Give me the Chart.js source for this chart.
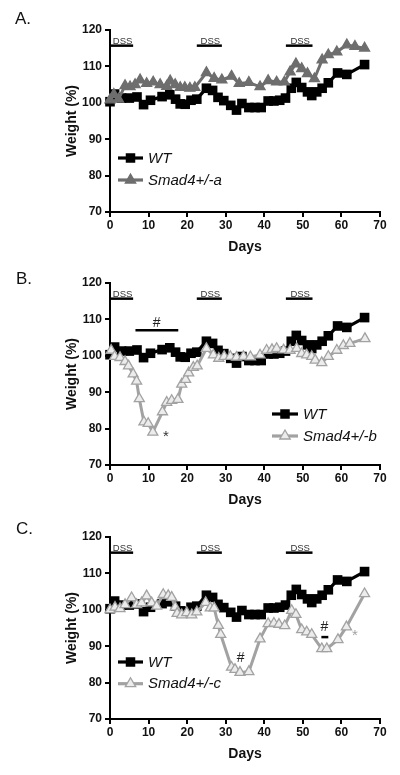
<!DOCTYPE html>
<html><head><meta charset="utf-8">
<script src="https://cdn.jsdelivr.net/npm/chart.js@4.4.1/dist/chart.umd.min.js"></script>
<style>
html,body{margin:0;padding:0;background:#fff;width:400px;height:775px;overflow:hidden;position:relative}
.panel{position:absolute;left:0;width:400px;height:262px}
canvas{display:block}
</style></head><body>
<div class="panel" style="top:0px"><canvas id="cA" width="400" height="262"></canvas></div>
<div class="panel" style="top:253px"><canvas id="cB" width="400" height="262"></canvas></div>
<div class="panel" style="top:507px"><canvas id="cC" width="400" height="262"></canvas></div>
<script>
// ---------- data ----------
const wtDays   = [0,1.2,3,5,7,8.7,10.5,13.5,15.5,17,18.2,19.5,21,22.5,25,26.6,28,29.5,31.3,32.8,34.2,36,37.6,39.2,41,42.5,44,45.5,47,48.3,49.7,51.2,52.3,53.6,55,56.6,59,61.4,66];
const wtWeight = [100.3,102.4,101.3,101.3,101.6,99.5,100.7,101.7,102.2,101,99.7,99.6,100.7,101,104,103.4,101.5,100.6,99.3,98,99.8,98.7,98.7,98.7,100.5,100.5,100.7,101.3,104,105.6,104.2,103,102,103,104,105.5,108.2,107.8,110.5];

const smadADays   = [0,1,2.2,3.9,5.2,6.5,7.8,9.5,11.2,13,14.7,15.6,16.9,18.2,19.4,20.7,22,25,27,29,31.5,33.5,36,38.9,41,43.2,45.2,46.7,48.2,49.7,51.2,53,55,56.6,58.8,61.4,63.5,66];
const smadAWeight = [100.8,102.3,101,104.7,104.4,105,106.3,105.3,105.7,105,104.5,106,105,104.2,104.2,104,104.2,108.3,106.7,106.3,107.3,105.3,105.6,104.4,106.1,105.7,105.7,108.5,110.7,109.4,108,106.6,111.8,113.2,114,115.9,115.5,115];

const smadBDays   = [0.3,1.2,2.6,3.9,4.8,6,6.9,7.6,8.8,9.9,11.1,13.6,14.7,16,17.6,18.6,19.6,20.4,21.6,22.6,25,26.8,28.2,29.6,31.2,32.8,34.6,36.4,38.9,40.6,42,43.2,45,46.7,48.4,49.7,51,52.3,53.2,54.9,56.6,58.8,60.5,62.2,66.1];
const smadBWeight = [101.5,99.8,99.5,98.4,97.2,95,93,88.2,81.8,81.4,79,84.6,87.2,87.7,88,92.2,93.5,95.3,96.8,97.2,102,100.2,99.3,99.8,99.8,99.6,99.8,99.7,100.2,101.5,101.7,102,101.6,101.5,102,100.6,100.2,99.8,98.8,98.1,99.8,101.5,102.8,103.4,104.7];

const smadCDays   = [0,1.3,2.6,3.9,5.6,6.9,8.2,9.5,10.8,12.1,13.8,15.1,16,16.9,17.4,18.6,19.9,21.2,22.5,24.8,26,27,28.1,28.7,31.5,32.4,33.7,36,38.9,41,42.5,43.8,45.3,47.1,48.2,49.7,51,52.3,54.9,56.2,59.1,61.3,66];
const smadCWeight = [100,100.7,100.3,101.4,103.3,101.4,101.9,103.8,101.9,101,104.2,103.9,103.4,100.7,99,98.6,99.2,98.6,99.4,102,100.5,100.5,95.7,93.2,84.2,83.6,82.8,83,92,96.2,96.3,96,95.6,99.8,98.7,94.5,93.9,93.2,89.3,89.3,91.8,95.3,104.4];

const xTicks = [0,10,20,30,40,50,60,70];
const yTicks = [70,80,90,100,110,120];
const dssStart = [0,22.5,45.6];
const dssEnd   = [6,29,52.5];

// ---------- styling ----------
const FONT = '"Liberation Sans", Arial, Helvetica, sans-serif';
const BLACK = '#000000';
const GRAY_A = '#6e6e6e';
const GRAY_L = '#a2a2a2';

function pts(d, w){ return d.map((x,i)=>({x:x, y:w[i]})); }

function drawSquare(ctx, x, y, s, fill){ ctx.fillStyle=fill; ctx.fillRect(x-s/2, y-s/2, s, s); }
function drawTri(ctx, x, y, r, fill, stroke){
  ctx.beginPath();
  ctx.moveTo(x, y-r);
  ctx.lineTo(x+r*0.866, y+r*0.5);
  ctx.lineTo(x-r*0.866, y+r*0.5);
  ctx.closePath();
  ctx.fillStyle=fill; ctx.fill();
  ctx.lineWidth=1.3; ctx.strokeStyle=stroke; ctx.stroke();
}

const extrasPlugin = {
  id:'extras',
  afterDraw(chart, args, o){
    const ctx = chart.ctx, xs = chart.scales.x, ys = chart.scales.y, ca = chart.chartArea;
    ctx.save();
    // panel label
    ctx.fillStyle='#111'; ctx.font='17px '+FONT; ctx.textAlign='left'; ctx.textBaseline='middle';
    ctx.fillText(o.label, o.labelX, o.labelY);
    // DSS bars
    for(let i=0;i<dssStart.length;i++){
      const x0 = xs.getPixelForValue(dssStart[i]), x1 = xs.getPixelForValue(dssEnd[i]);
      const yb = ys.getPixelForValue(115.7);
      ctx.strokeStyle='#000'; ctx.lineWidth=2.5;
      ctx.beginPath(); ctx.moveTo(x0,yb); ctx.lineTo(x1,yb); ctx.stroke();
      ctx.fillStyle='#333'; ctx.font='9.5px '+FONT; ctx.textAlign='center'; ctx.textBaseline='alphabetic';
      ctx.fillText('DSS', (x0+x1)/2 + 1, yb-1.5);
    }
    // notes
    (o.notes||[]).forEach(n=>{
      const px = xs.getPixelForValue(n.x), py = ys.getPixelForValue(n.y);
      if(n.type==='bar'){
        const px2 = xs.getPixelForValue(n.x2);
        ctx.strokeStyle=n.color; ctx.lineWidth=n.w||2;
        ctx.beginPath(); ctx.moveTo(px,py); ctx.lineTo(px2,py); ctx.stroke();
      } else {
        ctx.fillStyle=n.color; ctx.font=(n.size||14)+'px '+FONT; ctx.textAlign='center'; ctx.textBaseline='middle';
        ctx.fillText(n.text, px, py);
      }
    });
    // legend
    const L = o.legend;
    L.rows.forEach((r,i)=>{
      const y = ca.top + L.dy + i*L.gap;
      ctx.strokeStyle=r.color; ctx.lineWidth=3.2;
      ctx.beginPath(); ctx.moveTo(L.x0,y); ctx.lineTo(L.x1,y); ctx.stroke();
      const cx=(L.x0+L.x1)/2;
      if(r.style==='rect') drawSquare(ctx,cx,y,9.5,r.color);
      else drawTri(ctx,cx,y,6,r.fill,r.color);
      ctx.fillStyle='#111'; ctx.font='italic 15px '+FONT; ctx.textAlign='left'; ctx.textBaseline='middle';
      ctx.fillText(r.text, L.tx, y+0.5);
    });
    ctx.restore();
  }
};

function scales(){
  const tickFont = {family:FONT, size:12, weight:'bold'};
  const titleFont = {family:FONT, size:14, weight:'bold'};
  const grid = {drawOnChartArea:false, drawTicks:true, tickLength:5, color:'#000', lineWidth:2, tickColor:'#000', tickWidth:2};
  return {
    x:{type:'linear', min:0, max:70,
      afterBuildTicks:s=>{ s.ticks = xTicks.map(v=>({value:v})); },
      ticks:{font:tickFont, color:'#111', padding:1, maxRotation:0, autoSkip:false},
      grid:grid, border:{display:true, color:'#000', width:2},
      title:{display:true, text:'Days', font:titleFont, color:'#111', padding:{top:0,bottom:6.5}},
      afterFit:s=>{ s.height = 50; }
    },
    y:{type:'linear', min:70, max:120,
      afterBuildTicks:s=>{ s.ticks = yTicks.map(v=>({value:v})); },
      ticks:{font:tickFont, color:'#111', padding:3, autoSkip:false},
      grid:grid, border:{display:true, color:'#000', width:2},
      title:{display:true, text:'Weight (%)', font:titleFont, color:'#111', padding:{top:63.5,bottom:0}},
      afterFit:s=>{ s.width = 110; }
    }
  };
}

function makeChart(id, smadData, smadColor, smadFill, extras){
  return new Chart(document.getElementById(id), {
    type:'line',
    data:{datasets:[
      {label:'WT', data:pts(wtDays, wtWeight), borderColor:BLACK, backgroundColor:BLACK, borderWidth:3.2,
       pointStyle:'rect', pointRadius:6.8, pointBorderWidth:0, tension:0, clip:false, order:1},
      {label:extras.smadLabel, data:smadData, borderColor:smadColor, backgroundColor:smadFill, borderWidth:3,
       pointStyle:'triangle', pointRadius:5.8, pointBorderWidth:1.3, pointBorderColor:smadColor, tension:0, clip:false, order:0}
    ]},
    options:{
      responsive:false, animation:false, devicePixelRatio:1,
      layout:{padding:{top:30, right:20, left:0, bottom:0}},
      scales:scales(),
      plugins:{legend:{display:false}, tooltip:{enabled:false}, extras:extras}
    },
    plugins:[extrasPlugin]
  });
}

makeChart('cA', pts(smadADays, smadAWeight), GRAY_A, GRAY_A, {
  smadLabel:'Smad4+/-a', label:'A.', labelX:15, labelY:19,
  legend:{x0:118, x1:143, tx:148, dy:128, gap:22, rows:[
    {text:'WT', color:BLACK, style:'rect'},
    {text:'Smad4+/-a', color:GRAY_A, fill:GRAY_A, style:'tri'}]},
  notes:[]
});
makeChart('cB', pts(smadBDays, smadBWeight), GRAY_L, '#ececec', {
  smadLabel:'Smad4+/-b', label:'B.', labelX:16, labelY:26,
  legend:{x0:272, x1:298, tx:303, dy:131, gap:22, rows:[
    {text:'WT', color:BLACK, style:'rect'},
    {text:'Smad4+/-b', color:GRAY_L, fill:'#ececec', style:'tri'}]},
  notes:[
    {type:'bar', x:6.6, x2:17.7, y:107, color:'#000', w:2.5},
    {type:'text', text:'#', x:12.1, y:108.9, color:'#222', size:14},
    {type:'text', text:'*', x:14.5, y:77.6, color:'#333', size:15}
  ]
});
makeChart('cC', pts(smadCDays, smadCWeight), GRAY_L, '#ececec', {
  smadLabel:'Smad4+/-c', label:'C.', labelX:16, labelY:22,
  legend:{x0:118, x1:143, tx:148, dy:125, gap:21.7, rows:[
    {text:'WT', color:BLACK, style:'rect'},
    {text:'Smad4+/-c', color:GRAY_L, fill:'#ececec', style:'tri'}]},
  notes:[
    {type:'text', text:'#', x:33.9, y:86.8, color:'#222', size:14},
    {type:'text', text:'#', x:55.6, y:95.1, color:'#222', size:14},
    {type:'bar', x:54.8, x2:56.6, y:92.5, color:'#000', w:2.5},
    {type:'text', text:'*', x:63.5, y:92.8, color:GRAY_L, size:15}
  ]
});
</script>
</body></html>
